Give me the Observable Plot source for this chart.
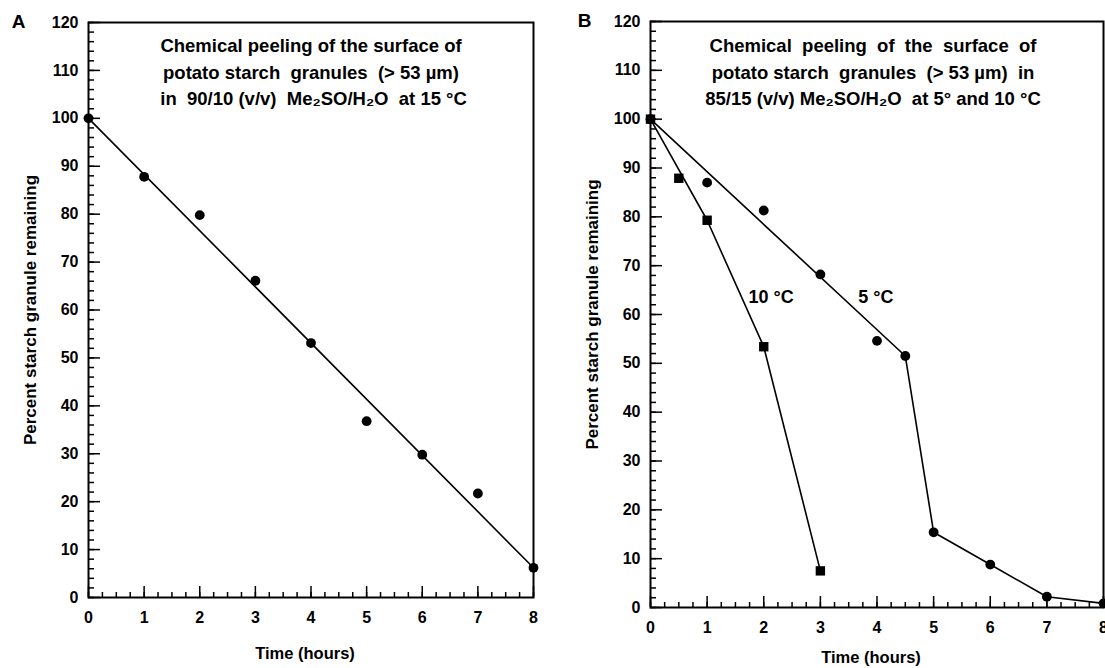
<!DOCTYPE html>
<html><head><meta charset="utf-8">
<script src="https://cdn.jsdelivr.net/npm/d3@7"></script>
<script src="https://cdn.jsdelivr.net/npm/@observablehq/plot@0.6"></script>
<style>
body{margin:0;background:#fff;}
#wrap{position:relative;width:1105px;height:668px;overflow:hidden;font-family:"Liberation Sans",Arial,sans-serif;background:#fff;}
.panel{position:absolute;top:0;}
.title{position:absolute;font-weight:bold;font-size:18.5px;text-align:center;white-space:pre;line-height:26.5px;color:#000;transform:translateX(-50%);}
</style></head><body><div id="wrap"></div>
<script>
// ---- Panel A data (90/10 Me2SO/H2O, 15 °C) ----
const timeA = [0, 1, 2, 3, 4, 5, 6, 7, 8];
const remainA = [100, 87.8, 79.8, 66.1, 53.1, 36.8, 29.8, 21.7, 6.2];
const fitTimeA = [0, 8];
const fitRemainA = [100, 6.2];

// ---- Panel B data (85/15 Me2SO/H2O) ----
const time5 = [0, 1, 2, 3, 4, 4.5, 5, 6, 7, 8];
const remain5 = [100, 87.0, 81.3, 68.2, 54.6, 51.5, 15.4, 8.8, 2.2, 0.85];
const line5Time = [0, 4.5, 5, 6, 7, 8];
const line5Remain = [100, 51.5, 15.4, 8.8, 2.2, 0.85];
const time10 = [0, 0.5, 1, 2, 3];
const remain10 = [100, 87.9, 79.3, 53.4, 7.5];
const line10Time = [0, 1, 2, 3];
const line10Remain = [100, 79.3, 53.4, 7.5];
const curveLabels = ["10 °C", "5 °C"];
const curveLabelTime = [2.13, 3.98];
const curveLabelRemain = [63.5, 63.5];

// ---- Axis ticks ----
const xTicks = [0, 1, 2, 3, 4, 5, 6, 7, 8];
const yTicks = [0, 10, 20, 30, 40, 50, 60, 70, 80, 90, 100, 110, 120];
const xMinor = d3.range(0, 8.001, 0.25);
const yMinor = d3.range(0, 120.001, 2);
const yLabel = "Percent starch granule remaining";
const xLabel = "Time (hours)";
const titleA = "Chemical peeling of the surface of\npotato starch  granules  (> 53 \u00b5m)\n in  90/10 (v/v)  Me\u2082SO/H\u2082O  at 15 \u00b0C";
const titleB = "Chemical  peeling  of  the  surface  of\npotato starch  granules  (> 53 \u00b5m)  in\n85/15 (v/v) Me\u2082SO/H\u2082O  at 5\u00b0 and 10 \u00b0C";

const zip = (xs, ys) => xs.map((x, i) => ({x, y: ys[i]}));
const FONT = "Liberation Sans, Arial, Helvetica, sans-serif";

function axesMarks(letter, xLabelDy, letterDx) {
  return [
    Plot.frame({strokeWidth: 2}),
    Plot.axisX(xMinor, {tickSize: -5, tickFormat: () => "", strokeWidth: 1.5, label: null}),
    Plot.axisX(xTicks, {tickSize: -11, tickFormat: () => "", strokeWidth: 1.5, label: null}),
    Plot.axisX(xTicks, {tickSize: 0, tickPadding: 14, label: null, fontSize: 16, fontWeight: "bold"}),
    Plot.axisY(yMinor, {tickSize: -6, tickFormat: () => "", strokeWidth: 1.5, label: null}),
    Plot.axisY(yTicks, {tickSize: -12, tickFormat: () => "", strokeWidth: 1.5, label: null}),
    Plot.axisY(yTicks, {tickSize: 0, tickPadding: 10, label: null, fontSize: 16, fontWeight: "bold"}),
    Plot.text([yLabel], {text: d => d, frameAnchor: "left", textAnchor: "middle", rotate: -90, dx: -58, fontSize: 17, fontWeight: "bold"}),
    Plot.text([xLabel], {text: d => d, frameAnchor: "bottom", textAnchor: "middle", dy: xLabelDy, dx: -6, lineAnchor: "middle", fontSize: 16.5, fontWeight: "bold"}),
    Plot.text([letter], {text: d => d, frameAnchor: "top-left", dx: letterDx, dy: -1, lineAnchor: "middle", textAnchor: "middle", fontSize: 19, fontWeight: "bold"})
  ];
}

const common = {
  x: {domain: [0, 8]},
  y: {domain: [0, 120]},
  style: {fontFamily: FONT, fontSize: "16px", fontWeight: "bold", color: "black", background: "transparent", overflow: "visible"}
};

const plotA = Plot.plot({
  ...common,
  width: 560, height: 668,
  marginLeft: 88, marginRight: 27, marginTop: 22, marginBottom: 71,
  marks: [
    ...axesMarks("A", 56, -70),
    Plot.line(zip(fitTimeA, fitRemainA), {x: "x", y: "y", stroke: "black", strokeWidth: 1.6}),
    Plot.dot(zip(timeA, remainA), {x: "x", y: "y", r: 4.9, fill: "black", stroke: "none"})
  ]
});

const plotB = Plot.plot({
  ...common,
  width: 545, height: 668,
  marginLeft: 90, marginRight: 2, marginTop: 21, marginBottom: 61,
  marks: [
    ...axesMarks("B", 50, -66),
    Plot.line(zip(line5Time, line5Remain), {x: "x", y: "y", stroke: "black", strokeWidth: 1.6}),
    Plot.line(zip(line10Time, line10Remain), {x: "x", y: "y", stroke: "black", strokeWidth: 1.6}),
    Plot.dot(zip(time5, remain5), {x: "x", y: "y", r: 4.9, fill: "black", stroke: "none"}),
    Plot.dot(zip(time10, remain10), {x: "x", y: "y", r: 5.3, symbol: "square", fill: "black", stroke: "none"}),
    Plot.text(curveLabels.map((t, i) => ({t, x: curveLabelTime[i], y: curveLabelRemain[i]})), {x: "x", y: "y", text: "t", fontSize: 18, fontWeight: "bold"})
  ]
});

const wrap = document.getElementById("wrap");
plotA.classList.add("panel"); plotA.style.left = "0px";
plotB.classList.add("panel"); plotB.style.left = "560px";
wrap.appendChild(plotA);
wrap.appendChild(plotB);

const tA = document.createElement("div");
tA.className = "title";
tA.style.left = "311px"; tA.style.top = "33px";
tA.textContent = titleA;
wrap.appendChild(tA);

const tB = document.createElement("div");
tB.className = "title";
tB.style.left = "873px"; tB.style.top = "33px";
tB.textContent = titleB;
wrap.appendChild(tB);
</script>
</body></html>
